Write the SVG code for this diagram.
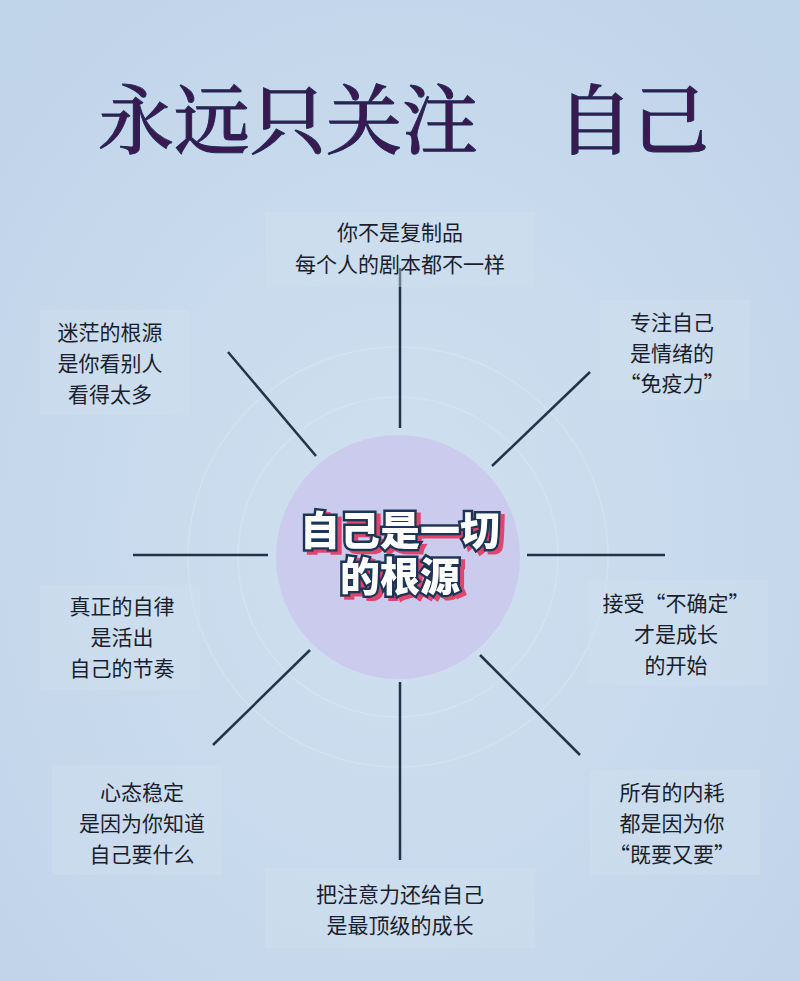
<svg xmlns="http://www.w3.org/2000/svg" width="800" height="981" viewBox="0 0 800 981">
<defs><style>
.t{font-family:"Noto Sans CJK SC","Noto Sans",sans-serif;font-size:21px;fill:#1a1f2e;text-anchor:middle}
.box{fill:#d3e2f1;opacity:0.4}
.c line{stroke:#26324a;stroke-width:2.5}
.ti{font-family:"Noto Serif CJK SC","Noto Sans CJK SC",serif;font-size:76px;font-weight:500;fill:#3b1950;stroke:#1d2a55;stroke-width:1}
.ct{font-family:"Noto Sans CJK SC",sans-serif;font-size:40px;font-weight:900;text-anchor:middle;fill:#fff;stroke:#1d3557;stroke-width:5;paint-order:stroke}
</style>
<filter id="sh" x="-10%" y="-20%" width="120%" height="140%"><feDropShadow dx="4" dy="3" stdDeviation="0.5" flood-color="#e0456e"/></filter>
<radialGradient id="bg" cx="50%" cy="55%" r="70%"><stop offset="0" stop-color="#d0e0f0"/><stop offset="1" stop-color="#c0d4ea"/></radialGradient>
</defs>
<rect width="800" height="981" fill="url(#bg)"/>
<g id="title"><text class="ti" x="98" y="148">永远只关注</text><text class="ti" x="557" y="148">自己</text></g>
<g fill="none" stroke="#d6e4f2" stroke-width="1.5" opacity="0.8"><circle cx="398" cy="557" r="160"/><circle cx="398" cy="557" r="210"/></g>
<g class="c" id="connectors">
<line x1="400" y1="268" x2="400" y2="428"/>
<line x1="228" y1="352" x2="316" y2="456"/>
<line x1="590" y1="372" x2="492" y2="466"/>
<line x1="133" y1="555" x2="268" y2="555"/>
<line x1="527" y1="555" x2="665" y2="555"/>
<line x1="310" y1="650" x2="213" y2="745"/>
<line x1="480" y1="655" x2="580" y2="755"/>
<line x1="400" y1="682" x2="400" y2="860"/>
</g>
<g id="center"><circle cx="398" cy="557" r="122" fill="#cbcbee"/>
<g class="ct" filter="url(#sh)"><text x="400" y="545">自己是一切</text><text x="400" y="591">的根源</text></g></g>
<g id="n1"><rect class="box" x="265" y="212" width="270" height="75"/><text class="t" x="400" y="240">你不是复制品</text><text class="t" x="400" y="272">每个人的剧本都不一样</text></g>
<g id="n2"><rect class="box" x="40" y="310" width="150" height="105"/><text class="t" x="110" y="340">迷茫的根源</text><text class="t" x="110" y="371">是你看别人</text><text class="t" x="110" y="402">看得太多</text></g>
<g id="n3"><rect class="box" x="600" y="300" width="150" height="100"/><text class="t" x="672" y="330">专注自己</text><text class="t" x="672" y="361">是情绪的</text><text class="t" x="672" y="391">“免疫力”</text></g>
<g id="n4"><rect class="box" x="40" y="585" width="160" height="105"/><text class="t" x="122" y="614">真正的自律</text><text class="t" x="122" y="645">是活出</text><text class="t" x="122" y="676">自己的节奏</text></g>
<g id="n5"><rect class="box" x="588" y="580" width="180" height="105"/><text class="t" x="676" y="611">接受“不确定”</text><text class="t" x="676" y="642">才是成长</text><text class="t" x="676" y="673">的开始</text></g>
<g id="n6"><rect class="box" x="52" y="765" width="170" height="110"/><text class="t" x="142" y="800">心态稳定</text><text class="t" x="142" y="831">是因为你知道</text><text class="t" x="142" y="862">自己要什么</text></g>
<g id="n7"><rect class="box" x="590" y="770" width="170" height="105"/><text class="t" x="672" y="800">所有的内耗</text><text class="t" x="672" y="831">都是因为你</text><text class="t" x="672" y="862">“既要又要”</text></g>
<g id="n8"><rect class="box" x="265" y="868" width="270" height="80"/><text class="t" x="400" y="902">把注意力还给自己</text><text class="t" x="400" y="933">是最顶级的成长</text></g>
</svg>
